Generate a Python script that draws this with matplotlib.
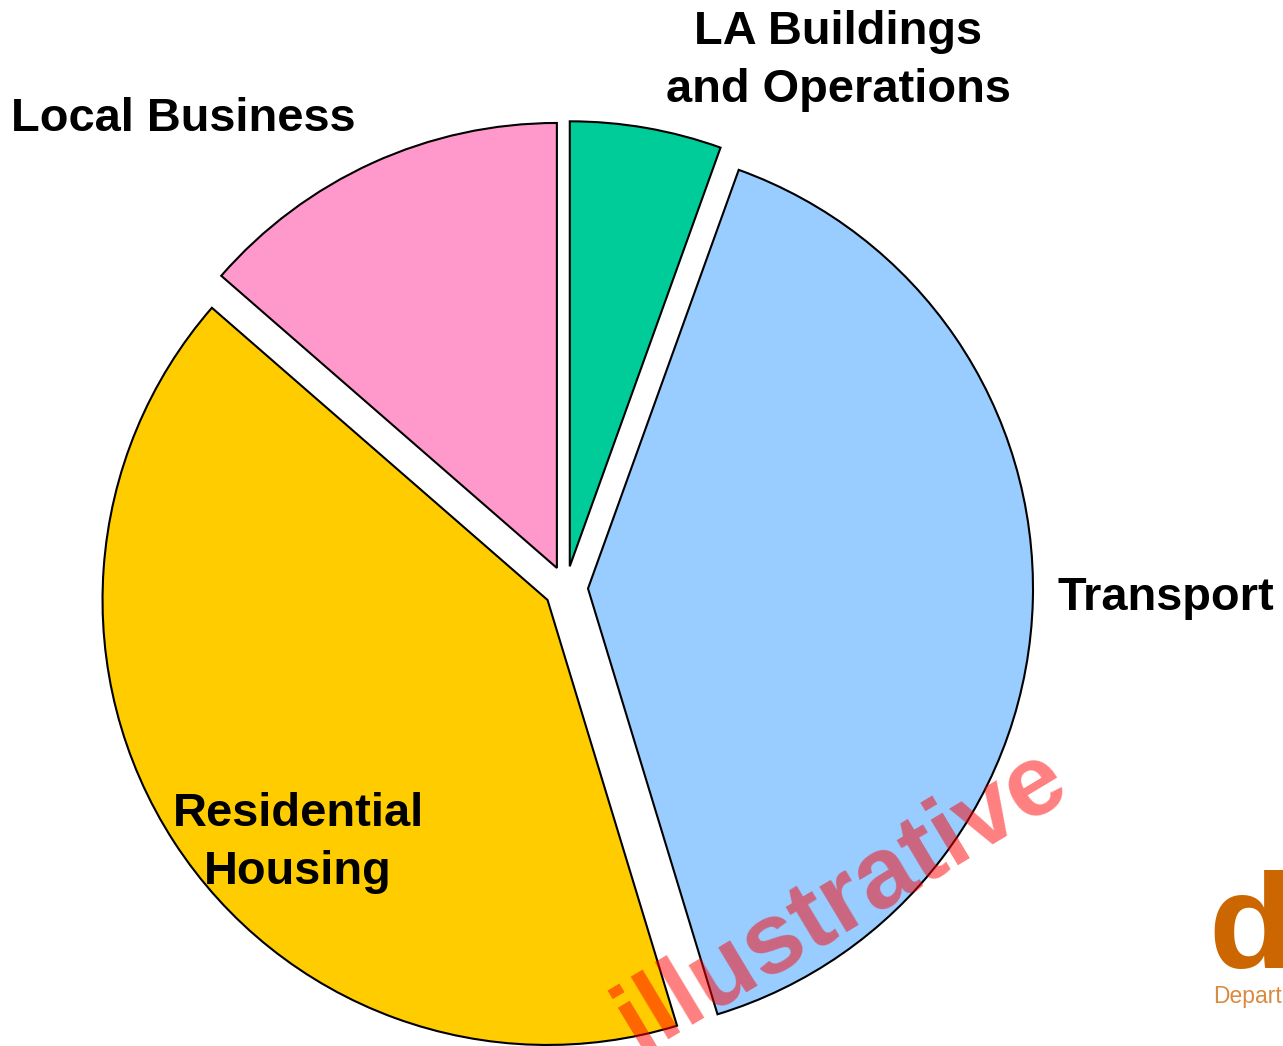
import matplotlib
matplotlib.use('Agg')
from matplotlib import pyplot as plt

# ========== Datos ==========
sectors = ['LA Buildings\nand Operations', 'Transport', 'Residential\nHousing', 'Local Business']
shares = [5.5, 39.8, 41.1, 13.6]
colors = ['#00CC99', '#99CCFF', '#FFCC00', '#FF99CC']

W, H = 1283, 1046
plt.rcParams['font.family'] = ['Liberation Sans', 'DejaVu Sans']

fig = plt.figure(figsize=(W / 100, H / 100), dpi=100)
ax = fig.add_axes([0, 0, 1, 1])

# ---------- pie ----------
# explode va en unidades de datos (pixeles aqui)
ax.pie(shares, colors=colors, startangle=90, counterclock=False,
       center=(566, H - 588), radius=445, explode=[22] * 4,
       wedgeprops=dict(edgecolor='black', linewidth=1.5), frame=True)
ax.set_xlim(0, W)
ax.set_ylim(0, H)
ax.axis('off')

# ---------- etiquetas ----------
lbl = dict(fontsize=33.8, fontweight='bold', ha='center', va='center', linespacing=1.4)
ax.text(838, H - 61, sectors[0], **lbl)
ax.text(1166, H - 598, sectors[1], **lbl)
ax.text(298, H - 843, sectors[2], **lbl)
ax.text(183, H - 119, sectors[3], **lbl)

# ---------- marca de agua ----------
ax.text(842, H - 900, 'illustrative', fontsize=73, fontweight='bold', color='red',
        alpha=0.5, rotation=31, ha='center', va='center', rotation_mode='anchor')

# ---------- logo ----------
ax.text(1208, H - 968, 'd', fontsize=98, fontweight='bold', color='#CC6600',
        ha='left', va='baseline')
ax.text(1213, H - 997, 'Department', fontsize=16.5, color='#D98A40',
        ha='left', va='center')

fig.savefig('out.png', dpi=100)
